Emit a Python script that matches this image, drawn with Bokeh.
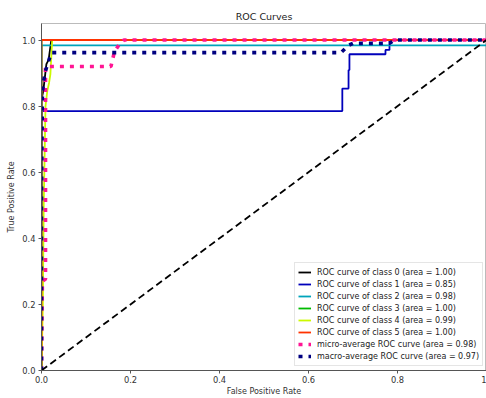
from bokeh.plotting import figure
from bokeh.models import Range1d, FixedTicker, PrintfTickFormatter, Legend, LegendItem
from bokeh.embed import file_html
from bokeh.resources import INLINE

# ---- data ----
class_names = ["0", "1", "2", "3", "4", "5"]
class_areas = ["1.00", "0.85", "0.98", "1.00", "0.99", "1.00"]

fpr0 = [0, 0, 0.004, 0.011, 0.016, 0.022, 1]
tpr0 = [0, 0.82, 0.846, 0.927, 0.94, 1.0, 1.0]

fpr1 = [0, 0, 0.012, 0.676, 0.676, 0.69, 0.69, 0.692, 0.692, 0.773, 0.773, 0.782, 0.782, 1]
tpr1 = [0, 0.785, 0.785, 0.785, 0.853, 0.853, 0.909, 0.909, 0.957, 0.957, 0.97, 0.97, 1.0, 1.0]

fpr2 = [0, 0, 1]
tpr2 = [0, 0.984, 0.984]

fpr3 = [0, 0, 1]
tpr3 = [0, 1.0, 1.0]

fpr4 = [0, 0.003, 0.005, 0.009, 0.013, 0.017, 0.02, 0.024, 1]
tpr4 = [0, 0.2, 0.5, 0.8, 0.846, 0.87, 0.897, 1.0, 1.0]

fpr5 = [0, 0, 1]
tpr5 = [0, 1.0, 1.0]

fpr_micro = [0, 0.002, 0.009, 0.009, 0.156, 0.164, 0.175, 0.185, 1]
tpr_micro = [0, 0.27, 0.277, 0.92, 0.92, 0.965, 0.987, 1.0, 1.0]
area_micro = "0.98"

fpr_macro = [0, 0, 0.002, 0.005, 0.009, 0.015, 0.022, 0.673, 0.69, 0.7, 0.782, 0.793, 1]
tpr_macro = [0, 0.5, 0.84, 0.877, 0.907, 0.932, 0.962, 0.962, 0.984, 0.99, 0.99, 1.0, 1.0]
area_macro = "0.97"

diag_x = [0, 1]
diag_y = [0, 1]

tick_values = [0.0, 0.2, 0.4, 0.6, 0.8, 1.0]

# nipy_spectral colours for 6 classes
class_colors = ["#000000", "#0000bb", "#00a4bb", "#00bb00", "#ccf900", "#ff3300"]

FONT = "DejaVu Sans"

p = figure(width=486, height=398, output_backend="svg", toolbar_location=None,
           x_range=Range1d(0, 1), y_range=Range1d(0, 1.05),
           title="ROC Curves", min_border_left=41, min_border_right=0,
           min_border_top=23, min_border_bottom=0)

p.title.align = "center"
p.title.text_font = FONT
p.title.text_font_size = "9.5px"
p.title.text_font_style = "normal"
p.title.text_color = "#222222"
p.title.standoff = 3

p.xgrid.visible = False
p.ygrid.visible = False
p.outline_line_color = "#bbbbbb"
p.background_fill_color = "white"
p.border_fill_color = "white"

for ax in (p.xaxis[0], p.yaxis[0]):
    ax.ticker = FixedTicker(ticks=tick_values)
    ax.formatter = PrintfTickFormatter(format="%.1f")
    ax.major_label_text_font = FONT
    ax.major_label_text_font_size = "8.3px"
    ax.major_label_text_color = "#333333"
    ax.axis_label_text_font = FONT
    ax.axis_label_text_font_size = "8px"
    ax.axis_label_text_font_style = "normal"
    ax.axis_label_text_color = "#333333"
    ax.minor_tick_line_color = None
    ax.major_tick_in = 0
    ax.major_tick_out = 3
    ax.major_label_standoff = 3
    ax.axis_label_standoff = 3
    ax.axis_line_color = "#555555"
    ax.major_tick_line_color = "#555555"

p.xaxis.major_label_standoff = 2
p.xaxis.axis_label_standoff = 1
p.xaxis.major_label_overrides = {1.0: "1"}

p.xaxis.axis_label = "False Positive Rate"
p.yaxis.axis_label = "True Positive Rate"

fprs = [fpr0, fpr1, fpr2, fpr3, fpr4, fpr5]
tprs = [tpr0, tpr1, tpr2, tpr3, tpr4, tpr5]

items = []
for i in range(6):
    r = p.line(fprs[i], tprs[i], line_color=class_colors[i], line_width=1.8)
    items.append(LegendItem(label="ROC curve of class %s (area = %s)" % (class_names[i], class_areas[i]),
                            renderers=[r]))

r_micro = p.line(fpr_micro, tpr_micro, line_color="deeppink", line_width=3.6,
                 line_dash=[4, 6], line_cap="butt")
items.append(LegendItem(label="micro-average ROC curve (area = %s)" % area_micro, renderers=[r_micro]))

r_macro = p.line(fpr_macro, tpr_macro, line_color="navy", line_width=3.6,
                 line_dash=[4, 6], line_cap="butt")
items.append(LegendItem(label="macro-average ROC curve (area = %s)" % area_macro, renderers=[r_macro]))

p.line(diag_x, diag_y, line_color="black", line_width=1.8, line_dash="7 4")

legend = Legend(items=items, location=(253, 4))
legend.label_text_font = FONT
legend.label_text_font_size = "8px"
legend.label_text_color = "#222222"
legend.glyph_width = 13
legend.glyph_height = 12
legend.label_height = 12
legend.label_standoff = 6
legend.spacing = 0
legend.padding = 3
legend.margin = 0
legend.border_line_color = "#cccccc"
legend.background_fill_alpha = 0.9
p.add_layout(legend)

open("out.html", "w").write(file_html(p, INLINE))
